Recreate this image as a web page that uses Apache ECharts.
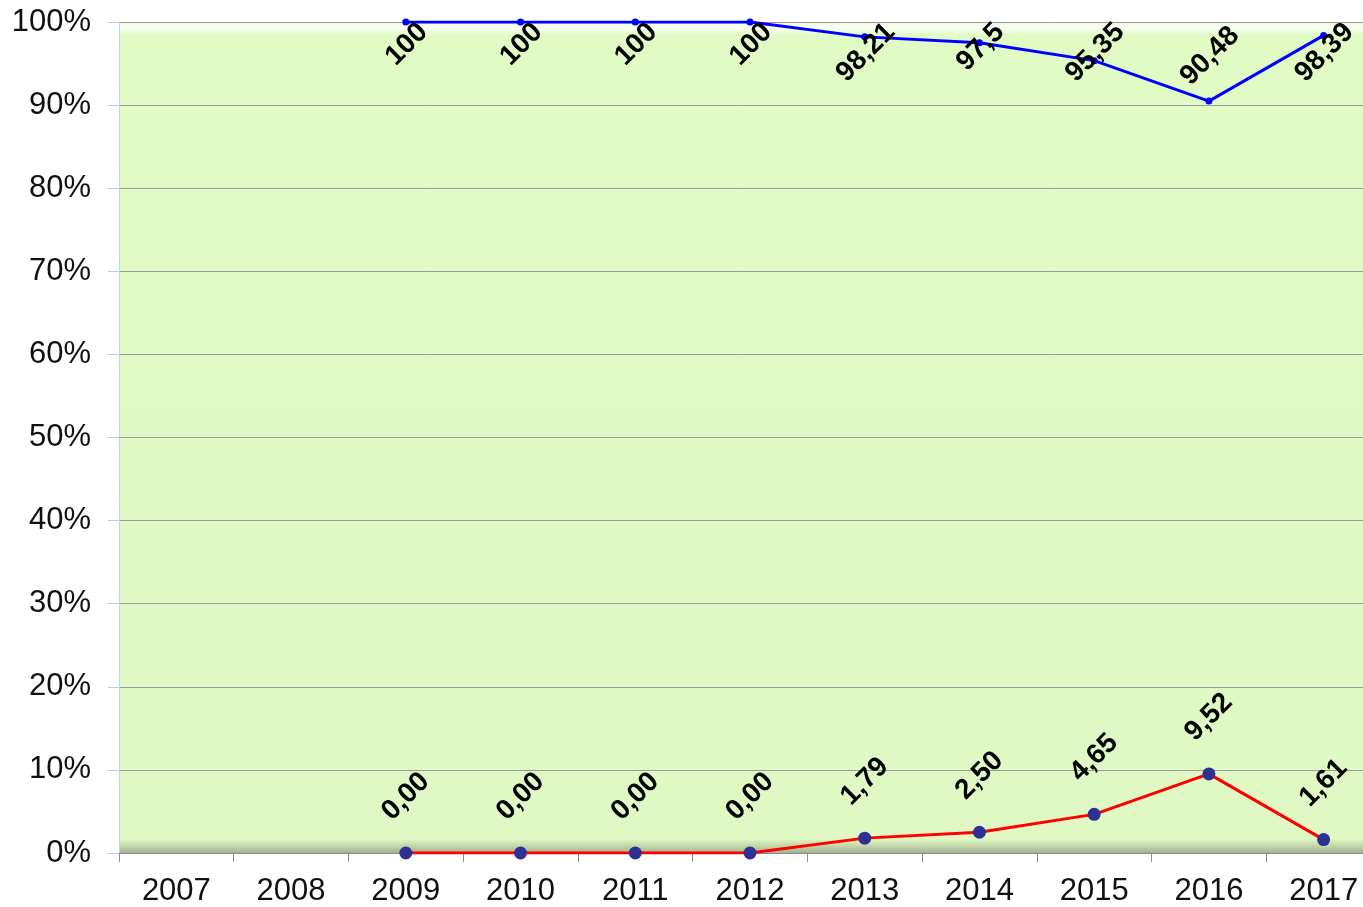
<!DOCTYPE html>
<html>
<head>
<meta charset="utf-8">
<script src="https://cdn.jsdelivr.net/npm/echarts@6/dist/echarts.min.js"></script>
<style>
html,body{margin:0;padding:0;background:#fff;}
#c{width:1363px;height:907px;}
</style>
</head>
<body>
<div id="c"></div>
<script>
const years = ['2007','2008','2009','2010','2011','2012','2013','2014','2015','2016','2017'];
const blueValues = [null, null, 100, 100, 100, 100, 98.21, 97.5, 95.35, 90.48, 98.39];
const redValues = [null, null, 0, 0, 0, 0, 1.79, 2.50, 4.65, 9.52, 1.61];

const chart = echarts.init(document.getElementById('c'));
const font = '"Liberation Sans", Arial, sans-serif';
const GRID_TOP = 22;
chart.setOption({
  animation: false,
  grid: {
    left: 119, right: -18, top: GRID_TOP, bottom: 54,
    outerBoundsMode: 'none',
    containLabel: false,
    show: true,
    borderWidth: 0,
    backgroundColor: {
      type: 'linear', x: 0, y: 0, x2: 0, y2: 1,
      colorStops: [
        {offset: 0, color: '#eaf9d6'},
        {offset: 0.006, color: '#fbfff5'},
        {offset: 0.016, color: '#e2fbc5'},
        {offset: 0.983, color: '#e0f8c3'},
        {offset: 0.991, color: '#c5d8aa'},
        {offset: 1, color: '#a3b294'}
      ]
    }
  },
  xAxis: {
    type: 'category',
    data: years,
    boundaryGap: true,
    axisLine: {lineStyle: {color: '#8c8c8c', width: 1}},
    axisTick: {show: true, length: 9, lineStyle: {color: '#8c8c8c'}},
    axisLabel: {color: '#111', fontSize: 31, fontFamily: font, margin: 23}
  },
  yAxis: {
    type: 'value',
    min: 0, max: 100, interval: 10,
    axisLine: {show: true, lineStyle: {color: '#b5dbe6', width: 1}},
    axisTick: {show: true, length: 11, lineStyle: {color: '#a9d6e6'}},
    axisLabel: {color: '#111', fontSize: 31, fontFamily: font, margin: 28, formatter: '{value}%'},
    splitLine: {show: true, lineStyle: {color: '#9a9a9a', width: 1}}
  },
  series: [
    {
      type: 'line',
      data: blueValues,
      connectNulls: false,
      symbol: 'circle',
      symbolSize: 7,
      lineStyle: {color: '#0000ff', width: 3},
      itemStyle: {color: '#0000ff'},
      label: {
        show: true,
        position: 'inside',
        rotate: 45,
        align: 'center',
        verticalAlign: 'middle',
        fontSize: 28,
        fontWeight: 'bold',
        fontFamily: font,
        color: '#000',
        formatter: p => String(p.value).replace('.', ',')
      },
      labelLayout: function (params) {
        const r = params.rect;
        const lr = params.labelRect;
        const cx = r.x + r.width / 2;
        const cy = r.y + r.height / 2;
        const half = lr.height / 2;
        const y = Math.max(cy - 45, GRID_TOP - 4 + half);
        return {x: cx + 1, y: y};
      },
      z: 3
    },
    {
      type: 'line',
      data: redValues,
      symbol: 'circle',
      symbolSize: 13,
      lineStyle: {color: '#ff0000', width: 3},
      itemStyle: {color: '#2e3192'},
      label: {
        show: true,
        position: 'inside',
        offset: [40, -40],
        rotate: 45,
        align: 'center',
        verticalAlign: 'middle',
        fontSize: 28,
        fontWeight: 'bold',
        fontFamily: font,
        color: '#000',
        formatter: p => p.value.toFixed(2).replace('.', ',')
      },
      z: 3
    }
  ]
});
</script>
</body>
</html>
